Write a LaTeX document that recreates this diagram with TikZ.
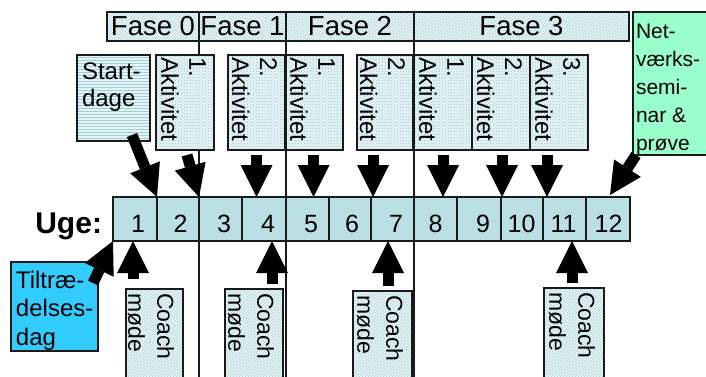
\documentclass[tikz,border=0pt]{standalone}
\usepackage{fontspec}
\setmainfont{Liberation Sans}
\usetikzlibrary{arrows.meta,calc,patterns}
\definecolor{cellfill}{HTML}{BBE0E3}
\definecolor{hatchbg}{HTML}{EEF7F8}
\definecolor{hatchfg}{HTML}{A6D3D9}
\definecolor{actbg}{HTML}{E8F4F6}
\definecolor{actfg}{HTML}{8CC6CE}
\definecolor{sdbg}{HTML}{E4F3F5}
\definecolor{sdfg}{HTML}{A0D0D6}
\definecolor{netfill}{HTML}{99FFCC}
\definecolor{tlfill}{HTML}{33CCFF}
\definecolor{edge}{HTML}{1A1A1A}
\begin{document}
\begin{tikzpicture}[x=1pt,y=-1pt,
  every node/.style={inner sep=0pt, outer sep=0pt},
  sz/.style 2 args={minimum width=#1pt, minimum height=#2pt},
  phasebox/.style={draw=edge, line width=1.6pt, preaction={fill=hatchbg}, pattern=north east lines, pattern color=hatchfg, font=\fontsize{27.5}{27.5}\selectfont},
  coachbox/.style={draw=edge, line width=1.6pt, preaction={fill=hatchbg}, pattern=north east lines, pattern color=hatchfg},
  actbox/.style={draw=edge, line width=1.6pt, preaction={fill=actbg}, pattern=crosshatch dots, pattern color=actfg},
  sdbox/.style={draw=edge, line width=1.6pt, preaction={fill=sdbg}, pattern=horizontal lines, pattern color=sdfg},
  netbox/.style={draw=edge, line width=1.6pt, fill=netfill},
  tlbox/.style={draw=edge, line width=1.6pt, fill=tlfill},
  cell/.style={draw=edge, line width=1.6pt, fill=cellfill},
  num/.style={anchor=base, font=\fontsize{25}{25}\selectfont},
  rottext/.style={rotate=-90, anchor=north west, align=left, font=\fontsize{24}{28}\selectfont},
  rotcoach/.style={rotate=-90, anchor=north west, align=left, font=\fontsize{23}{29}\selectfont},
  blocktext/.style={anchor=north west, align=left},
  vline/.style={draw=edge, line width=1.5pt},
  blk/.style={line width=11pt, -{Triangle[length=32pt,width=32pt,line width=0pt]}},
]
\useasboundingbox (0,0) rectangle (706,376);
\clip (0,0) rectangle (706,376);
\coordinate (bot) at (0,385);

% phase headers
\node[phasebox, sz={92}{29}] (f0) at (153,26.5) {Fase 0};
\node[phasebox, sz={87}{29}] (f1) at (242.5,26.5) {Fase 1};
\node[phasebox, sz={128}{29}] (f2) at (350,26.5) {Fase 2};
\node[phasebox, sz={215}{29}] (f3) at (521.5,26.5) {Fase 3};

% phase separators
\draw[vline] (f0.south east) -- (f0.south east |- bot);
\draw[vline] (f1.south east) -- (f1.south east |- bot);
\draw[vline] (f2.south east) -- (f2.south east |- bot);

% week cells
\node[cell, sz={44}{44}] (w1) at (135,219) {};
\node[cell, sz={42}{44}] (w2) at (178,219) {};
\node[cell, sz={43}{44}] (w3) at (220.5,219) {};
\node[cell, sz={44}{44}] (w4) at (264,219) {};
\node[cell, sz={43}{44}] (w5) at (307.5,219) {};
\node[cell, sz={42}{44}] (w6) at (350,219) {};
\node[cell, sz={43}{44}] (w7) at (392.5,219) {};
\node[cell, sz={43}{44}] (w8) at (435.5,219) {};
\node[cell, sz={44}{44}] (w9) at (479,219) {};
\node[cell, sz={42}{44}] (w10) at (522,219) {};
\node[cell, sz={43}{44}] (w11) at (564.5,219) {};
\node[cell, sz={44}{44}] (w12) at (608,219) {};
\draw[vline] (f0.south east |- w1.north) -- (f0.south east |- w1.south);
\draw[vline] (f1.south east |- w1.north) -- (f1.south east |- w1.south);
\draw[vline] (f2.south east |- w1.north) -- (f2.south east |- w1.south);

\node[num] (n1) at (138,232) {1};
\node[num] (n2) at (180.5,232) {2};
\node[num] (n3) at (224,232) {3};
\node[num] (n4) at (268,232) {4};
\node[num] (n5) at (311,232) {5};
\node[num] (n6) at (352,232) {6};
\node[num] (n7) at (396,232) {7};
\node[num] (n8) at (435.5,232) {8};
\node[num] (n9) at (483,232) {9};
\node[num] (n10) at (521.5,232) {10};
\node[num] (n11) at (563.5,232) {11};
\node[num] (n12) at (608.5,232) {12};

\node[anchor=base east, font=\fontsize{30}{30}\selectfont\bfseries] (uge) at (102,233) {Uge:};

% activity boxes
\node[actbox, sz={58}{95}] (aA) at (185,102.5) {};
\node[actbox, sz={57}{95}] (aB) at (256.5,102.5) {};
\node[actbox, sz={57}{95}] (aC) at (314.5,102.5) {};
\node[actbox, sz={56}{95}] (aD) at (385,102.5) {};
\node[actbox, sz={58}{95}] (aE) at (443,102.5) {};
\node[actbox, sz={58}{95}] (aF) at (501,102.5) {};
\node[actbox, sz={58}{95}] (aG) at (559,102.5) {};
\node[rottext] (tA) at ($(aA.north east)+(-8,2)$) {1.\\Aktivitet};
\node[rottext] (tB) at ($(aB.north east)+(-8,2)$) {2.\\Aktivitet};
\node[rottext] (tC) at ($(aC.north east)+(-8,2)$) {1.\\Aktivitet};
\node[rottext] (tD) at ($(aD.north east)+(-8,2)$) {2.\\Aktivitet};
\node[rottext] (tE) at ($(aE.north east)+(-8,2)$) {1.\\Aktivitet};
\node[rottext] (tF) at ($(aF.north east)+(-8,2)$) {2.\\Aktivitet};
\node[rottext] (tG) at ($(aG.north east)+(-8,2)$) {3.\\Aktivitet};

% Startdage
\node[sdbox, sz={73}{86}] (sd) at (113.5,98) {};
\node[blocktext, font=\fontsize{24}{27}\selectfont] (sdt) at (82,63) {Start-\\dage};

% Netvaerksseminar
\node[netbox, sz={90}{143}] (net) at (678,83.5) {};
\node[blocktext, font=\fontsize{21}{28}\selectfont] (nett) at (636,24) {Net-\\værks-\\semi-\\nar \&\\prøve};

% Tiltraedelsesdag
\node[tlbox, sz={87}{89}] (tl) at (54.5,306.5) {};
\node[blocktext, font=\fontsize{24}{28.5}\selectfont] (tlt) at (16,271) {Tiltræ-\\delses-\\dag};

% Coach boxes
\node[coachbox, sz={57}{101}] (c1) at (154.5,339.5) {};
\node[coachbox, sz={58}{101}] (c2) at (254,339.5) {};
\node[coachbox, sz={59}{101}] (c3) at (382.5,341.5) {};
\node[coachbox, sz={60}{101}] (c4) at (574,338.5) {};
\node[rotcoach] (ct1) at ($(c1.north east)+(-9,4)$) {Coach\\møde};
\node[rotcoach] (ct2) at ($(c2.north east)+(-9,4)$) {Coach\\møde};
\node[rotcoach] (ct3) at ($(c3.north east)+(-9,4)$) {Coach\\møde};
\node[rotcoach] (ct4) at ($(c4.north east)+(-9,4)$) {Coach\\møde};

% arrows down
\draw[blk] ($(sd.south)+(18.5,-6)$) -- (w1.north east);
\draw[blk] ($(aA.south)+(2,5)$) -- (w2.north east);
\draw[blk] ($(aB.south)+(0,5)$) -- (aB.south |- w4.north);
\draw[blk] ($(aC.south)+(-1,5)$) -- ($(aC.south |- w5.north)+(-1,0)$);
\draw[blk] ($(aD.south)+(-12,5)$) -- ($(aD.south |- w7.north)+(-12,0)$);
\draw[blk] ($(aE.south)+(0,5)$) -- (aE.south |- w8.north);
\draw[blk] ($(aF.south)+(1,5)$) -- ($(aF.south |- w10.north)+(1,0)$);
\draw[blk] ($(aG.south)+(-12,5)$) -- ($(aG.south |- w11.north)+(-12,0)$);
\draw[blk] ($(net.south west)+(3,0)$) -- ($(w12.north)+(2,-2)$);

% arrows up
\draw[blk] ($(tl.north east)+(-5,21)$) -- (w1.south west);
\draw[blk] ($(c1.north)+(-21.5,-10)$) -- ($(w1.south)+(-2,0)$);
\draw[blk] ($(c2.north)+(18,-5)$) -- ($(w4.south)+(8,0)$);
\draw[blk] ($(c3.north)+(5.5,-5)$) -- ($(w7.south)+(-4.5,0)$);
\draw[blk] ($(c4.north)+(-2,-5)$) -- ($(w11.south)+(7.5,0)$);
\end{tikzpicture}
\end{document}
